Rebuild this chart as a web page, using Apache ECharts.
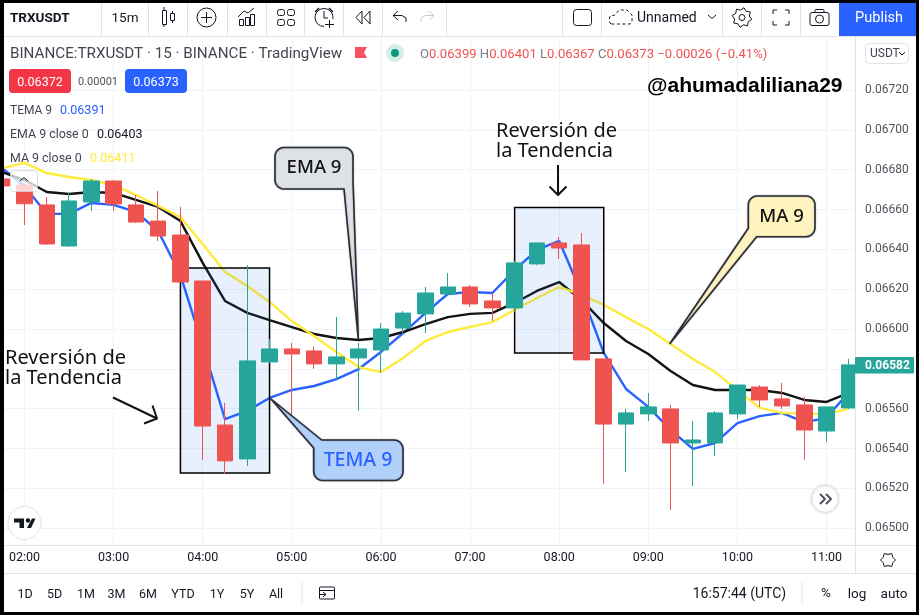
<!DOCTYPE html>
<html>
<head>
<meta charset="utf-8">
<style>html,body{margin:0;padding:0;background:#fff}#c{width:919px;height:615px}</style>
<script src="https://cdn.jsdelivr.net/npm/echarts@6/dist/echarts.min.js"></script>
</head>
<body>
<div id="c"></div>
<script>
const times = ['01:45','02:00','02:15','02:30','02:45','03:00','03:15','03:30','03:45','04:00','04:15','04:30','04:45','05:00','05:15','05:30','05:45','06:00','06:15','06:30','06:45','07:00','07:15','07:30','07:45','08:00','08:15','08:30','08:45','09:00','09:15','09:30','09:45','10:00','10:15','10:30','10:45','11:00','11:15'];
const opens = [0.066753,0.066723,0.066623,0.066417,0.066638,0.066743,0.066623,0.066542,0.066472,0.066241,0.065518,0.065348,0.065835,0.065900,0.065890,0.065825,0.065855,0.065895,0.066005,0.066076,0.066176,0.066211,0.066141,0.066106,0.066327,0.066432,0.066422,0.065850,0.065523,0.065574,0.065599,0.065428,0.065428,0.065574,0.065709,0.065649,0.065619,0.065488,0.065604];
const closes = [0.066718,0.066629,0.066427,0.066643,0.066743,0.066628,0.066537,0.066467,0.066236,0.065513,0.065338,0.065840,0.065900,0.065875,0.065825,0.065860,0.065900,0.066000,0.066080,0.066181,0.066211,0.066126,0.066106,0.066332,0.066432,0.066407,0.065845,0.065523,0.065579,0.065609,0.065428,0.065443,0.065579,0.065719,0.065644,0.065614,0.065493,0.065609,0.065820];
const lows = [0.066718,0.066522,0.066422,0.066412,0.066593,0.066593,0.066532,0.066442,0.066236,0.065343,0.065272,0.065312,0.065830,0.065568,0.065800,0.065750,0.065590,0.065780,0.065975,0.065980,0.066176,0.066111,0.066040,0.066086,0.066321,0.066352,0.065845,0.065222,0.065282,0.065538,0.065092,0.065212,0.065363,0.065548,0.065609,0.065599,0.065343,0.065433,0.065599];
const highs = [0.066758,0.066733,0.066663,0.066683,0.066753,0.066748,0.066673,0.066693,0.066613,0.066241,0.065629,0.066321,0.065950,0.065930,0.065910,0.066060,0.065930,0.066030,0.066090,0.066211,0.066281,0.066221,0.066181,0.066342,0.066432,0.066462,0.066482,0.065850,0.065599,0.065679,0.065619,0.065538,0.065589,0.065719,0.065719,0.065730,0.065659,0.065609,0.065850];
const tema = [0.066808,0.066718,0.066578,0.066578,0.066633,0.066623,0.066588,0.066492,0.066271,0.065915,0.065548,0.065589,0.065654,0.065694,0.065714,0.065749,0.065799,0.065885,0.065980,0.066081,0.066176,0.066186,0.066181,0.066296,0.066397,0.066442,0.066181,0.065880,0.065699,0.065609,0.065493,0.065398,0.065428,0.065528,0.065563,0.065579,0.065533,0.065553,0.065684];
const ema9 = [0.066788,0.066748,0.066688,0.066678,0.066688,0.066683,0.066648,0.066613,0.066542,0.066332,0.066141,0.066081,0.066045,0.066010,0.065975,0.065955,0.065945,0.065955,0.065985,0.066025,0.066060,0.066076,0.066081,0.066131,0.066191,0.066236,0.066146,0.066030,0.065940,0.065875,0.065789,0.065719,0.065694,0.065694,0.065694,0.065679,0.065644,0.065634,0.065679];
const ma9 = [0.066808,0.066834,0.066783,0.066763,0.066748,0.066723,0.066673,0.066618,0.066562,0.066427,0.066286,0.066216,0.066136,0.066040,0.065965,0.065885,0.065809,0.065784,0.065855,0.065940,0.065985,0.066010,0.066035,0.066096,0.066156,0.066211,0.066171,0.066121,0.066060,0.066000,0.065925,0.065850,0.065784,0.065694,0.065604,0.065579,0.065574,0.065574,0.065599];
const axisTimes = times.concat(['11:30']);
const priceLabelFrom = 0.0650, priceLabelTo = 0.0672;
const zoneOne = {from:'03:45', to:'04:45', top:0.066307, bottom:0.065277};
const zoneTwo = {from:'07:30', to:'08:30', top:0.066610, bottom:0.065880};
const lastPrice = 0.06582;

const candleData = times.map((t,i)=>[opens[i],closes[i],lows[i],highs[i]]);
const GRID = '#f0f3fa', EDGE = '#e0e3eb', INK = '#131722', GREY = '#50535e', RED = '#ef5350', BLUE = '#2962ff';
const FONT = 'Roboto, sans-serif';
const els = [];
const Z_PANEL = 6, Z_UI = 8, Z_NOTE = 9, Z_FRAME = 12;
function rect(x,y,w,h,fill,o={}){els.push({type:'rect',z:o.z||Z_UI,silent:true,shape:{x,y,width:w,height:h,r:o.r||0},style:{fill,stroke:o.stroke||null,lineWidth:o.lw||1,opacity:o.opacity==null?1:o.opacity,shadowBlur:o.blur||0,shadowColor:o.shadow||'transparent'}})}
function line(x1,y1,x2,y2,stroke,o={}){els.push({type:'line',z:o.z||Z_UI,silent:true,shape:{x1,y1,x2,y2},style:{stroke,lineWidth:o.lw||1,lineDash:o.dash||null,lineCap:o.cap||'butt'}})}
function poly(points,stroke,o={}){els.push({type:'polyline',z:o.z||Z_UI,silent:true,shape:{points},style:{stroke,fill:null,lineWidth:o.lw||1,lineDash:o.dash||null,lineJoin:'round'}})}
function gon(points,fill,o={}){els.push({type:'polygon',z:o.z||Z_UI,silent:true,shape:{points},style:{fill,stroke:o.stroke||null,lineWidth:o.lw||1,lineJoin:o.join||'miter',shadowBlur:o.blur||0,shadowColor:o.shadow||'transparent'}})}
function circ(cx,cy,r,fill,o={}){els.push({type:'circle',z:o.z||Z_UI,silent:true,shape:{cx,cy,r},style:{fill:fill||null,stroke:o.stroke||null,lineWidth:o.lw||1,lineDash:o.dash||null,shadowBlur:o.blur||0,shadowColor:o.shadow||'transparent'}})}
function text(x,y,str,o={}){els.push({type:'text',z:o.z||Z_UI,silent:true,style:{x,y:y+1,text:str,fill:o.fill||INK,font:(o.weight||'normal')+' '+(o.size||12)+'px '+(o.family||FONT),textAlign:o.align||'left',textVerticalAlign:'middle',rich:o.rich}})}
function corner(cx,cy,r,a0){const p=[];for(let k=0;k<=6;k++){const a=a0+k*Math.PI/12;p.push([cx+r*Math.cos(a),cy+r*Math.sin(a)])}return p}
function callout(x,y,w,h,r,tail,where,fill){
  const pts=[];
  const tl=corner(x+r,y+r,r,Math.PI), tr=corner(x+w-r,y+r,r,-Math.PI/2), br=corner(x+w-r,y+h-r,r,0), bl=corner(x+r,y+h-r,r,Math.PI/2);
  if(where==='tl'){pts.push(...tail,...tr,...br,...bl)}
  if(where==='br'){pts.push(...tl,...tr,...tail,...bl)}
  if(where==='bl'){pts.push(...tl,...tr,...br,...tail)}
  gon(pts,fill,{stroke:'#2a2e39',lw:1.6,join:'round',z:Z_NOTE,blur:1.5,shadow:'rgba(0,0,0,0.35)'});
}

/* panels */
rect(0,0,919,36,'#fff',{z:Z_PANEL});
rect(856,36,63,509,'#fff',{z:Z_PANEL});
rect(0,545,919,70,'#fff',{z:Z_PANEL});
line(0,36.5,919,36.5,EDGE);
line(855.5,36,855.5,573,EDGE);
line(856,545.5,919,545.5,EDGE);
line(0,573.5,919,573.5,EDGE);
[101,148,187,227,266,304,343,382,446,562,601,722,761,800].forEach(x=>line(x+.5,3,x+.5,36,EDGE));

/* top toolbar */
text(10,17.5,'TRXUSDT',{weight:'bold',size:13.5});
text(125,17.5,'15m',{size:13.5,align:'center'});
line(164,7,164,27,INK);rect(162.5,10.5,4,14,'#fff',{stroke:INK});
line(172.5,11,172.5,23,INK);rect(170.5,13.5,4,7,'#fff',{stroke:INK});
circ(206.5,17.5,9.5,'#fff',{stroke:INK});line(201,17.5,212,17.5,INK);line(206.5,12,206.5,23,INK);
rect(239.5,19.5,4,6,'#fff',{stroke:INK});rect(245.5,17.5,4,8,'#fff',{stroke:INK});rect(250.5,14.5,4,11,'#fff',{stroke:INK});
poly([[238,17],[244,11],[248,13],[254,8]],INK);
[[277.5,9.5],[287.5,9.5],[277.5,19.5],[287.5,19.5]].forEach(p=>rect(p[0],p[1],7,6,'#fff',{stroke:INK,r:2}));
circ(324,17.5,9,'#fff',{stroke:INK});poly([[324,11],[324,18],[328,18]],INK);poly([[315,12],[319,8]],INK,{lw:1.5});poly([[329,8],[333,12]],INK,{lw:1.5});
rect(324,19,10,9,'#fff');line(329.5,20,329.5,28,INK);line(325,24.5,334,24.5,INK);
gon([[362,11],[356,17.5],[362,24]],'#fff',{stroke:INK});gon([[370,11],[364,17.5],[370,24]],'#fff',{stroke:INK});
poly([[398,11],[393,15.5],[398,20]],INK);poly([[393,15.5],[402,15.5],[406,18],[406,22]],INK);
poly([[429,11],[434,15.5],[429,20]],'#c8cbd3');poly([[434,15.5],[425,15.5],[421,18],[421,22]],'#c8cbd3');
rect(573.5,9.5,18,16,'#fff',{stroke:INK,r:3});
poly([[611,24],[609,21],[610,16],[615,15],[619,10],[627,10],[632,15],[632,21],[630,24],[611,24]],INK,{dash:[3,2.5]});
text(637,17,'Unnamed',{size:14});
poly([[708,15],[712,18.5],[716,15]],INK);
(function(cx,cy){const pts=[];for(let k=0;k<16;k++){const a=k*Math.PI/8+Math.PI/16;const rr=k%2?7.5:10;pts.push([cx+rr*Math.cos(a),cy+rr*Math.sin(a)])}gon(pts,'#fff',{stroke:INK,join:'round'});circ(cx,cy,3,'#fff',{stroke:INK})})(742,17.5);
[[[773,14],[773,10],[777,10]],[[785,10],[789,10],[789,14]],[[773,21],[773,25],[777,25]],[[785,25],[789,25],[789,21]]].forEach(p=>poly(p,INK));
rect(810,12.5,19,13,'#fff',{stroke:INK,r:2});rect(815,9.5,9,3,'#fff',{stroke:INK,r:1});circ(819.5,19,4,'#fff',{stroke:INK});
rect(839,3,77,33,BLUE);
text(879,17,'Publish',{fill:'#fff',size:14.5,align:'center'});

/* legend */
text(10,53,'BINANCE:TRXUSDT · 15 · BINANCE · TradingView',{size:15.2,fill:'#434651'});
gon([[355,47],[367,47],[364,52.5],[367,58],[355,58]],'#f7525f');
circ(395,53,9,'#d5ede9');circ(395,53,4,'#089981');
const seg=(k,v)=>'{g|'+k+'}{r|'+v+'}';
text(420,53.5,seg('O','0.06399')+' '+seg('H','0.06401')+' '+seg('L','0.06367')+' '+seg('C','0.06373')+'{r| −0.00026 (−0.41%)}',{size:13.1,rich:{g:{fill:'#787b86',font:'13.1px '+FONT},r:{fill:RED,font:'13.1px '+FONT}}});
rect(9,69,62,24,'#f23645',{r:4});text(40,81.5,'0.06372',{fill:'#fff',size:12.5,align:'center'});
text(98,81.5,'0.00001',{fill:GREY,size:11,align:'center'});
rect(125,69,62,24,BLUE,{r:4});text(156,81.5,'0.06373',{fill:'#fff',size:12.5,align:'center'});
text(10,110,'TEMA 9',{fill:'#434651'});text(60,110,'0.06391',{fill:BLUE,size:12.5});
text(10,134,'EMA 9 close 0',{fill:'#434651',size:12.4});text(97,134,'0.06403',{fill:INK,size:12.5});
text(10,158,'MA 9 close 0',{fill:'#434651',size:12.4});text(90,158,'0.06411',{fill:'#ffeb3b',size:12.5});
rect(10.5,170.5,27,21,'#ffffff',{stroke:'#d1d4dc',r:3,opacity:0.75});
poly([[20,181],[24,177.5],[28,181]],'#131722');

/* right axis extras */
rect(865.5,43.5,43,20,'#fff',{stroke:EDGE,r:4});
text(870,52.5,'USDT',{size:12,fill:'#434651'});
poly([[899,52],[902,55],[905,52]],INK);
rect(855,357,59,16.5,'#26a69a',{r:1});
text(865,365,lastPrice.toFixed(5),{fill:'#fff',size:12,weight:'bold'});
(function(cx,cy){const pts=[];for(let k=0;k<12;k++){const a=k*Math.PI/6;const rr=k%2?5.5:7.5;pts.push([cx+rr*Math.cos(a),cy+rr*Math.sin(a)])}gon(pts,'#fff',{stroke:INK})})(888,560);

/* chart buttons */
circ(825,499,13.5,'#fff',{stroke:EDGE,blur:3,shadow:'rgba(0,0,0,0.15)'});
poly([[820,494],[825,499],[820,504]],'#50535e',{lw:2});poly([[826,494],[831,499],[826,504]],'#50535e',{lw:2});
circ(24.5,523,16.5,'#fff',{stroke:EDGE});
gon([[14,518.5],[24,518.5],[24,528],[19.5,528],[19.5,522.5],[14,522.5]],'#131722');
circ(28,520.5,2.2,'#131722');gon([[27,528],[32,518.5],[35.5,518.5],[31,528]],'#131722');

/* range bar */
[['1D',25],['5D',54.5],['1M',86],['3M',116.5],['6M',148],['YTD',183],['1Y',217],['5Y',247],['All',276]].forEach(r=>text(r[1],593.5,r[0],{size:12.5,align:'center'}));
line(302,582,302,604,EDGE);
rect(319.5,587,15,12,'#fff',{stroke:INK,r:1});line(319.5,590.5,334.5,590.5,INK);line(318,594.5,326,594.5,INK);poly([[323,592],[326,594.5],[323,597]],INK);rect(317,592,2,6,'#fff');
text(786,593.5,'16:57:44 (UTC)',{size:14,align:'right'});
line(802,582,802,604,EDGE);
text(826,593,'%',{size:13.5,align:'center'});
text(857,593.5,'log',{size:13.5,align:'center'});
text(894,593.5,'auto',{size:13.5,align:'center'});

/* notes */
const NOTE='"Noto Sans", sans-serif';
text(5,357,'Reversión de',{size:20,family:NOTE,fill:'#111',z:Z_NOTE});
text(5,377,'la Tendencia',{size:20,family:NOTE,fill:'#111',z:Z_NOTE});
text(496,130,'Reversión de',{size:20,family:NOTE,fill:'#111',z:Z_NOTE});
text(496,150,'la Tendencia',{size:20,family:NOTE,fill:'#111',z:Z_NOTE});
text(647,85.5,'@ahumadaliliana29',{size:21,weight:'bold',family:'"Liberation Sans", Arial, sans-serif',fill:'#000',z:Z_NOTE});
poly([[113,397.5],[157,418.5]],'#111',{lw:2,z:Z_NOTE});poly([[152.5,405.5],[157,418.5],[144,423.5]],'#111',{lw:2,z:Z_NOTE});
poly([[558,165],[558,195]],'#111',{lw:2,z:Z_NOTE});poly([[549.5,186.5],[558,195],[566.5,186.5]],'#111',{lw:2,z:Z_NOTE});
callout(275,147.5,78,41.5,9,[[353,180],[358.3,339],[344,189]],'br','#dee1e6');
text(314,167,'EMA 9',{size:18.5,weight:'500',family:NOTE,fill:'#111',align:'center',z:Z_NOTE+1});
callout(313.7,440,89.3,40.5,9,[[313.7,448],[271,399],[321.7,440]],'tl','#b1d1fb');
text(358,459.5,'TEMA 9',{size:19.5,weight:'500',family:NOTE,fill:BLUE,align:'center',z:Z_NOTE+1});
callout(748.3,196,66.7,40.7,9,[[756.7,236.7],[670,343.5],[748.3,228.3]],'bl','#fff4bf');
text(781.5,216,'MA 9',{size:18.5,weight:'500',family:NOTE,fill:'#111',align:'center',z:Z_NOTE+1});

/* frame */
rect(0,0,4,615,'#000',{z:Z_FRAME});rect(916,0,3,615,'#000',{z:Z_FRAME});rect(0,0,919,3,'#000',{z:Z_FRAME});rect(0,612,919,3,'#000',{z:Z_FRAME});

const hourly = i => i % 4 === 1;
const gridColors = new Array(14).fill(GRID); gridColors[13] = 'transparent';
const line3 = (name,data,color)=>({name,type:'line',data,z:2,showSymbol:false,symbol:'none',silent:true,lineStyle:{color,width:2.4},itemStyle:{color}});
const zone = z => [{xAxis:z.from,yAxis:z.top},{xAxis:z.to,yAxis:z.bottom}];

const chart = echarts.init(document.getElementById('c'),null,{renderer:'canvas'});
chart.setOption({
  animation:false,
  backgroundColor:'#fff',
  tooltip:{show:false},
  grid:{left:2.2,right:47.9,top:36,height:532.08,containLabel:false},
  xAxis:[
    {type:'category',data:axisTimes,boundaryGap:false,axisLine:{show:false},axisTick:{show:false},axisLabel:{show:false},
     splitLine:{show:true,interval:hourly,lineStyle:{color:GRID,width:1}}},
    {type:'category',data:axisTimes,boundaryGap:false,position:'bottom',offset:-23,z:7,axisLine:{show:true,lineStyle:{color:EDGE}},axisTick:{show:false},splitLine:{show:false},
     axisLabel:{interval:hourly,color:INK,fontFamily:FONT,fontSize:12.5,margin:6,hideOverlap:false}}
  ],
  yAxis:[
    {type:'value',position:'right',min:0.0648,max:0.067471,interval:0.0002,axisLine:{show:false},axisTick:{show:false},axisLabel:{show:false},
     splitLine:{show:true,lineStyle:{color:gridColors,width:1}}},
    {type:'value',position:'right',min:0.0648,max:0.067471,interval:0.0002,z:7,axisLine:{show:false},axisTick:{show:false},splitLine:{show:false},
     axisLabel:{color:GREY,fontFamily:FONT,fontSize:12,margin:-6,padding:[2,0,0,0],formatter:v=>(v>=priceLabelFrom-1e-7&&v<=priceLabelTo+1e-7)?v.toFixed(5):''}}
  ],
  series:[
    line3('TEMA 9',tema,'#2962ff'),
    line3('EMA 9',ema9,'#131313'),
    line3('MA 9',ma9,'#ffeb3b'),
    {name:'zones',type:'line',data:[],z:3,silent:true,
     markArea:{z:3,silent:true,itemStyle:{color:'rgba(33,110,243,0.1)',borderColor:'#000',borderWidth:1.5},label:{show:false},data:[zone(zoneOne),zone(zoneTwo)]}},
    {name:'TRXUSDT',type:'candlestick',data:candleData,z:4,silent:true,barWidth:16,clip:false,
     itemStyle:{color:'#26a69a',color0:RED,borderColor:'#26a69a',borderColor0:RED,borderWidth:1}}
  ],
  graphic:{elements:els}
});
</script>
</body>
</html>
